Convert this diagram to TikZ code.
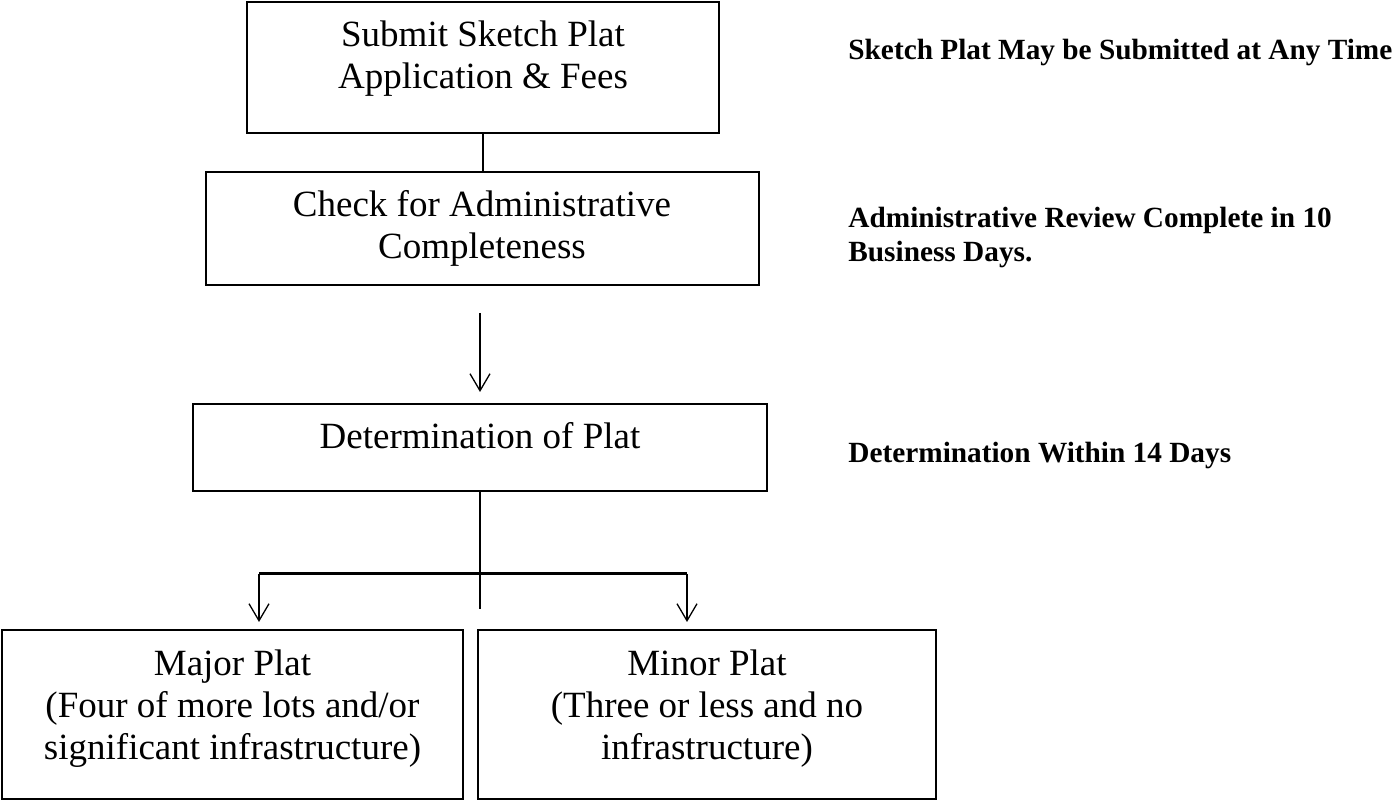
\documentclass[tikz,border=0pt]{standalone}
\usepackage{fontspec}
\setmainfont{Liberation Serif}
\usetikzlibrary{arrows.meta}

% box text: fixed size, lines from the top
\newcommand{\boxlines}[3]{\parbox[c][#2][t]{#1}{\centering\rule{0pt}{22.5pt}#3}}

\begin{document}
\begin{tikzpicture}[x=0.5pt, y=-0.5pt,
		platbox/.style={draw, line width=1pt, inner sep=0pt, font=\fontsize{18.5}{21}\selectfont},
		note/.style={inner sep=0pt, align=left, font=\fontsize{14.65}{17}\selectfont\bfseries},
		link/.style={line width=1pt},
		arrowline/.style={line width=0.65pt, -{Straight Barb[length=8.5pt, width=10pt]}},
		branchline/.style={line width=1.5pt}]

		\useasboundingbox (0, 0) rectangle (1392, 801);

		% steps
		\node[platbox] (submit) at (483, 67.5) {\boxlines{236pt}{65.5pt}{Submit Sketch Plat\\Application \& Fees}};
		\node[platbox] (check) at (482, 228.5) {\boxlines{276.5pt}{56.5pt}{Check for Administrative\\Completeness}};
		\node[platbox] (plat) at (480, 447.5) {\boxlines{287pt}{43.5pt}{Determination of Plat}};
		\node[platbox] (major) at (232.5, 714.5) {\boxlines{230.5pt}{84.5pt}{Major Plat\\(Four of more lots and/or\\significant infrastructure)}};
		\node[platbox] (minor) at (707, 714.5) {\boxlines{229pt}{84.5pt}{Minor Plat\\(Three or less and no\\infrastructure)}};

		% notes on the right
		\node[note, anchor=base west] (anytime) at (848, 60) {Sketch Plat May be Submitted at Any Time};
		\node[note, anchor=west] (tendays) at (848, 238) {Administrative Review Complete in 10\\Business Days.};
		\node[note, anchor=base west] (fourteen) at (848, 463) {Determination Within 14 Days};

		% connectors
		\draw[link] (submit.south) -- (submit.south |- check.north);
		\draw[arrowline, shorten >=5.5pt] ([yshift=-13.5pt]plat.north |- check.south) -- (plat.north);

		\coordinate (stem) at ([yshift=-58.5pt]plat.south);
		\coordinate (forkL) at (259, 574);
		\coordinate (forkR) at (687, 574);

		\draw[link] (plat.south) -- (stem);
		\draw[branchline] (forkL) -- (forkR);
		\draw[arrowline, shorten >=3.5pt] (forkL) -- (forkL |- major.north);
		\draw[arrowline, shorten >=3.5pt] (forkR) -- (forkR |- minor.north);
	\end{tikzpicture}
\end{document}
